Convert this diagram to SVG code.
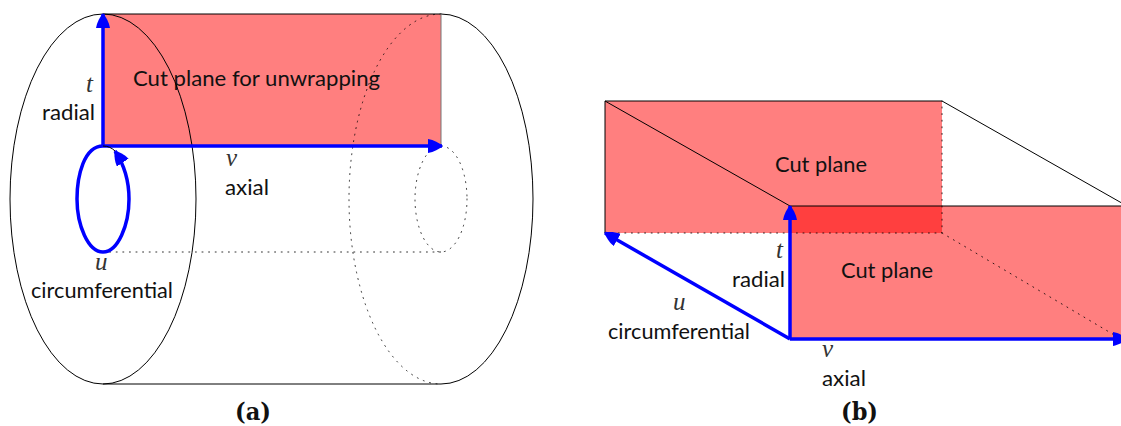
<svg xmlns="http://www.w3.org/2000/svg" width="1121" height="426" viewBox="0 0 1121 426">
<defs>
<style>
.l{fill:none;stroke:#000;stroke-width:1}
.d{fill:none;stroke:#000;stroke-width:1;stroke-dasharray:1 5.6;stroke-linecap:round;stroke-opacity:.8}
.b{fill:none;stroke:#0000ff;stroke-width:3.5}
.r{fill:#ff0000;fill-opacity:.5;stroke:none}
.s{font-family:"Lato","Open Sans",sans-serif;font-size:21.5px;fill:#111}
.m{font-family:"Liberation Serif",serif;font-style:italic;font-size:25px;fill:#333}
.c{font-family:"DejaVu Serif",serif;font-weight:bold;font-size:24px;fill:#111}
</style>
<marker id="ah" markerUnits="userSpaceOnUse" markerWidth="18" markerHeight="16" refX="14" refY="7" orient="auto"><path d="M0 0C6 1 11 4 15 7C11 10 6 13 0 14Z" fill="#0000ff"/></marker>
</defs>
<g id="panel-a">
<g id="cut-plane-a"><rect class="r" x="103" y="14" width="338" height="132"/><text class="s" x="133" y="86" textLength="247" lengthAdjust="spacingAndGlyphs">Cut plane for unwrapping</text></g>
<g id="cylinder">
<ellipse class="l" cx="103" cy="199" rx="93" ry="185"/>
<path class="l" d="M103 14H441A92 185 0 0 1 441 384H103"/>
<path class="d" d="M441 14A92 185 0 0 0 441 384"/>
<ellipse class="d" cx="441" cy="199" rx="26" ry="53"/>
<path class="d" d="M103 252H441"/>
<path d="M441 14V146" stroke="#777" stroke-width="1" fill="none"/>
</g>
<g id="connectors-a">
<path class="b" d="M103 146V14" marker-end="url(#ah)"/>
<path class="b" d="M103 146H442" marker-end="url(#ah)"/>
<path class="b" d="M103 146C84 146 77 176 77 199C77 225 88 252 103 252C118 252 129 225 129 199C129 180 125 166 115 151" marker-end="url(#ah)"/>
<path class="l" d="M103 146C108 146 112 148 115 151"/>
</g>
<g id="labels-a">
<text class="m" x="86" y="92">t</text>
<text class="s" x="42" y="120" textLength="53" lengthAdjust="spacingAndGlyphs">radial</text>
<text class="m" x="226" y="166">v</text>
<text class="s" x="225" y="195" textLength="44" lengthAdjust="spacingAndGlyphs">axial</text>
<text class="m" x="95" y="270">u</text>
<text class="s" x="31" y="298" textLength="142" lengthAdjust="spacingAndGlyphs">circumferential</text>
<text class="c" x="235" y="420" textLength="36" lengthAdjust="spacingAndGlyphs">(a)</text>
</g>
</g>
<g id="panel-b">
<g id="cut-plane-b-back"><rect class="r" x="605" y="101" width="337" height="132"/></g>
<g id="cut-plane-b-front"><rect class="r" x="790" y="206" width="331" height="133"/></g>
<g id="box">
<path class="l" d="M605 233V101H942L1127 206"/>
<path class="l" d="M605 101L790 206H1121"/>
<path class="d" d="M605 233H942V101"/>
<path class="d" d="M942 233L1121 339"/>
</g>
<g id="connectors-b">
<path class="b" d="M790 339V206" marker-end="url(#ah)"/>
<path class="b" d="M790 339L605 233" marker-end="url(#ah)"/>
<path class="b" d="M790 339H1127" marker-end="url(#ah)"/>
</g>
<g id="labels-b">
<text class="s" x="775" y="172" textLength="92" lengthAdjust="spacingAndGlyphs">Cut plane</text>
<text class="s" x="841" y="278" textLength="92" lengthAdjust="spacingAndGlyphs">Cut plane</text>
<text class="m" x="776" y="258">t</text>
<text class="s" x="732" y="287" textLength="53" lengthAdjust="spacingAndGlyphs">radial</text>
<text class="m" x="673" y="310">u</text>
<text class="s" x="608" y="339" textLength="142" lengthAdjust="spacingAndGlyphs">circumferential</text>
<text class="m" x="822" y="357">v</text>
<text class="s" x="822" y="386" textLength="44" lengthAdjust="spacingAndGlyphs">axial</text>
<text class="c" x="841" y="420" textLength="37" lengthAdjust="spacingAndGlyphs">(b)</text>
</g>
</g>
</svg>
